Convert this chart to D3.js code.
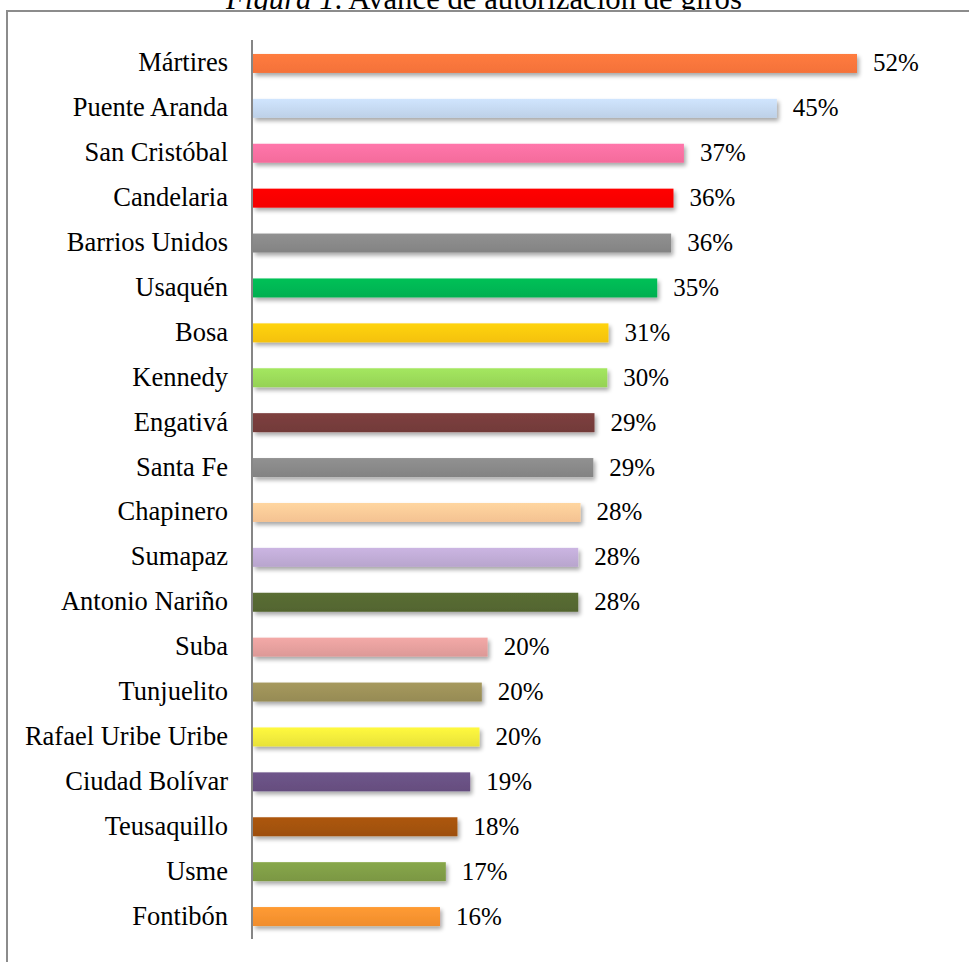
<!DOCTYPE html>
<html>
<head>
<meta charset="utf-8">
<script src="https://cdn.jsdelivr.net/npm/d3@7"></script>
<style>
  html, body { margin: 0; padding: 0; background: #fff; }
  svg { display: block; }
  text { font-family: "Liberation Serif", "Times New Roman", serif; fill: #000; }
</style>
</head>
<body>
<svg id="chart" width="969" height="962"></svg>
<script>
// DATA
var localidades = ["Mártires", "Puente Aranda", "San Cristóbal", "Candelaria", "Barrios Unidos",
  "Usaquén", "Bosa", "Kennedy", "Engativá", "Santa Fe", "Chapinero", "Sumapaz",
  "Antonio Nariño", "Suba", "Tunjuelito", "Rafael Uribe Uribe", "Ciudad Bolívar",
  "Teusaquillo", "Usme", "Fontibón"];
var avance = [52.0, 45.1, 37.1, 36.2, 36.0, 34.8, 30.6, 30.5, 29.4, 29.3, 28.2, 28.0,
  28.0, 20.2, 19.7, 19.5, 18.7, 17.6, 16.6, 16.1];
var etiquetas = ["52%", "45%", "37%", "36%", "36%", "35%", "31%", "30%", "29%", "29%", "28%", "28%",
  "28%", "20%", "20%", "20%", "19%", "18%", "17%", "16%"];
var colores = ["#ff763c", "#c5d9f1", "#ff70a2", "#ff0000", "#898989", "#05b753", "#ffc90a",
  "#9bdb5a", "#773d3c", "#898989", "#ffcb98", "#c0acd6", "#566831", "#e6a09e",
  "#9d9159", "#f2ec3c", "#695184", "#a4520f", "#809e46", "#fb932f"];

// LAYOUT
var svg = d3.select("#chart");
var x0 = 253, axisX = 252;

var x = d3.scaleLinear().domain([0, 52]).range([x0, 857]);
var y = d3.scaleBand().domain(localidades).range([41, 939])
  .paddingInner(0.577).paddingOuter(0.2885);

var rows = localidades.map(function (d, i) {
  return { name: d, value: avance[i], label: etiquetas[i], color: colores[i] };
});

// shadow + gradients
var defs = svg.append("defs");
var shadow = defs.append("filter").attr("id", "shadow")
  .attr("x", "-5%").attr("y", "-50%").attr("width", "115%").attr("height", "250%");
shadow.append("feGaussianBlur").attr("in", "SourceAlpha").attr("stdDeviation", 2.2).attr("result", "blur");
shadow.append("feOffset").attr("in", "blur").attr("dx", 2).attr("dy", 3).attr("result", "off");
shadow.append("feComponentTransfer").attr("in", "off").attr("result", "soft")
  .append("feFuncA").attr("type", "linear").attr("slope", 0.35);
var merge = shadow.append("feMerge");
merge.append("feMergeNode").attr("in", "soft");
merge.append("feMergeNode").attr("in", "SourceGraphic");

rows.forEach(function (d, i) {
  var g = defs.append("linearGradient").attr("id", "grad" + i)
    .attr("x1", 0).attr("y1", 0).attr("x2", 0).attr("y2", 1);
  var c = d3.color(d.color);
  g.append("stop").attr("offset", "0%").attr("stop-color", c.brighter(0.15));
  g.append("stop").attr("offset", "100%").attr("stop-color", c.darker(0.12));
});

// title (its top is cut by the page edge and its bottom hidden by the chart area, as in the source)
var title = svg.append("text")
  .attr("x", 484).attr("y", 9)
  .attr("text-anchor", "middle")
  .style("font-size", "27px");
title.append("tspan").style("font-style", "italic").text("Figura 1");
title.append("tspan").text(". Avance de autorización de giros");
var tw = title.node().getComputedTextLength();
title.style("font-size", (27 * 516 / tw) + "px");

// chart area frame
svg.append("rect")
  .attr("x", 7).attr("y", 11)
  .attr("width", 1000).attr("height", 1000)
  .attr("fill", "#fff")
  .attr("stroke", "#8c8c8c")
  .attr("stroke-width", 2);

// bars
svg.append("g").selectAll("rect")
  .data(rows)
  .join("rect")
  .attr("x", x0)
  .attr("y", function (d) { return y(d.name); })
  .attr("width", function (d) { return x(d.value) - x0; })
  .attr("height", y.bandwidth())
  .attr("fill", function (d, i) { return "url(#grad" + i + ")"; })
  .attr("filter", "url(#shadow)");

// vertical axis line
svg.append("line")
  .attr("x1", axisX).attr("x2", axisX)
  .attr("y1", 40).attr("y2", 939)
  .attr("stroke", "#868686")
  .attr("stroke-width", 2);

// category labels
svg.append("g").selectAll("text")
  .data(rows)
  .join("text")
  .attr("x", 228)
  .attr("y", function (d) { return y(d.name) + y.bandwidth() / 2 + 8; })
  .attr("text-anchor", "end")
  .style("font-size", "26.5px")
  .text(function (d) { return d.name; });

// value labels
svg.append("g").selectAll("text")
  .data(rows)
  .join("text")
  .attr("x", function (d) { return x(d.value) + 16; })
  .attr("y", function (d) { return y(d.name) + y.bandwidth() / 2 + 8; })
  .style("font-size", "25px")
  .text(function (d) { return d.label; });
</script>
</body>
</html>
